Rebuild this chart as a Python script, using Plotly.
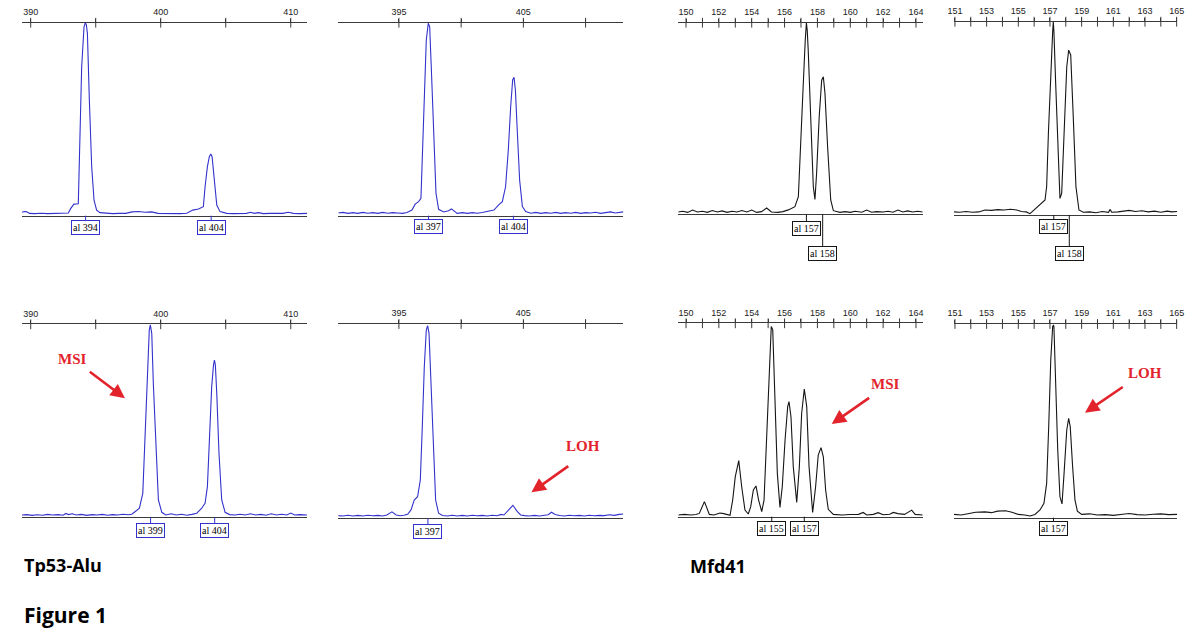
import plotly.graph_objects as go

W, H = 1200, 641

# ------------------------------------------------------------------ data
# tick values / labels (bp)
tp53_n_ticks = [390, 395, 400, 405, 410]
tp53_n_labels = ["390", "", "400", "", "410"]
tp53_t_ticks = [395, 400, 405, 410]
tp53_t_labels = ["395", "", "405", ""]
mfd_n_ticks = [150, 151, 152, 153, 154, 155, 156, 157, 158, 159, 160, 161, 162, 163, 164]
mfd_n_labels = ["150", "", "152", "", "154", "", "156", "", "158", "", "160", "", "162", "", "164"]
mfd_t_ticks = [151, 152, 153, 154, 155, 156, 157, 158, 159, 160, 161, 162, 163, 164, 165]
mfd_t_labels = ["151", "", "153", "", "155", "", "157", "", "159", "", "161", "", "163", "", "165"]

# visible size windows (bp)
tp53_n_range = [389.33, 411.25]
tp53_t_range = [390.13, 413.03]
mfd_n_range = [149.53, 164.41]
mfd_t_range = [150.94, 165.04]

# traces: (size bp, relative signal)
p1_trace = [(389.33,0.018),(389.5,0.022),(389.7,0.02),(389.9,0.012),(390.3,0.011),(390.8,0.013),(391.3,0.011),(391.8,0.012),
            (392.3,0.011),(392.7,0.013),(392.89,0.014),(393.08,0.038),(393.33,0.06),(393.66,0.062),(393.79,0.427),(393.92,0.772),
            (394.1,0.979),(394.2,1.0),(394.28,0.99),(394.36,0.945),(394.51,0.6),(394.69,0.254),(394.87,0.081),(395.07,0.029),
            (395.33,0.016),(395.8,0.012),(396.3,0.011),(396.8,0.012),(397.3,0.012),(397.8,0.02),(398.3,0.022),(398.8,0.018),
            (399.3,0.02),(399.8,0.012),(400.5,0.011),(401.0,0.012),(401.5,0.011),(402.0,0.013),(402.46,0.029),(402.9,0.035),
            (403.28,0.047),(403.41,0.15),(403.59,0.254),(403.74,0.306),(403.85,0.32),(403.95,0.306),(404.1,0.185),(404.31,0.055),
            (404.56,0.021),(405.08,0.012),(405.6,0.011),(406.1,0.012),(406.6,0.012),(406.9,0.018),(407.2,0.012),(407.5,0.016),
            (407.9,0.011),(408.4,0.012),(408.9,0.012),(409.4,0.012),(409.8,0.018),(410.2,0.012),(410.7,0.011),(411.25,0.012)]
p2_trace = [(390.13,0.014),(390.5,0.017),(390.9,0.012),(391.3,0.016),(391.7,0.012),(392.1,0.017),(392.5,0.013),(392.9,0.016),
            (393.3,0.012),(393.7,0.017),(394.1,0.013),(394.5,0.016),(394.9,0.014),(395.3,0.012),(395.65,0.017),(396.05,0.029),
            (396.31,0.06),(396.58,0.073),(396.77,0.09),(396.9,0.34),(397.04,0.686),(397.2,0.91),(397.36,0.997),(397.47,0.98),
            (397.6,0.772),(397.79,0.427),(397.98,0.116),(398.19,0.033),(398.6,0.019),(399.0,0.026),(399.22,0.035),(399.4,0.026),
            (399.68,0.012),(400.1,0.016),(400.5,0.012),(400.9,0.016),(401.3,0.013),(401.7,0.017),(402.1,0.021),(402.63,0.029),
            (403.04,0.057),(403.31,0.073),(403.57,0.15),(403.79,0.34),(403.98,0.565),(404.14,0.703),(404.25,0.717),(404.36,0.651),
            (404.52,0.427),(404.7,0.185),(404.92,0.047),(405.19,0.021),(405.6,0.013),(406.0,0.017),(406.4,0.012),(406.8,0.016),
            (407.2,0.013),(407.6,0.017),(408.0,0.012),(408.4,0.016),(408.8,0.013),(409.2,0.017),(409.6,0.012),(410.0,0.016),
            (410.4,0.014),(410.8,0.018),(411.2,0.012),(411.6,0.016),(412.0,0.02),(412.4,0.014),(412.7,0.018),(413.03,0.02)]
p3_trace = [(149.53,0.012),(149.8,0.016),(150.1,0.01),(150.4,0.022),(150.7,0.012),(151.0,0.016),(151.3,0.01),(151.6,0.02),
            (151.9,0.012),(152.2,0.018),(152.5,0.01),(152.8,0.016),(153.1,0.012),(153.4,0.02),(153.7,0.012),(154.0,0.022),
            (154.3,0.01),(154.6,0.014),(154.91,0.033),(155.2,0.012),(155.6,0.01),(155.9,0.014),(156.23,0.023),(156.63,0.04),
            (156.84,0.092),(156.98,0.336),(157.14,0.683),(157.26,0.91),(157.33,1.0),(157.38,0.96),(157.44,0.857),(157.59,0.51),
            (157.75,0.144),(157.85,0.078),(157.95,0.214),(158.11,0.51),(158.26,0.7),(158.36,0.718),(158.46,0.631),(158.62,0.353),
            (158.81,0.075),(158.97,0.019),(159.37,0.01),(159.7,0.014),(160.0,0.01),(160.3,0.016),(160.7,0.011),(161.0,0.022),
            (161.3,0.011),(161.6,0.014),(162.0,0.012),(162.3,0.016),(162.6,0.011),(162.9,0.022),(163.2,0.012),(163.5,0.018),
            (163.8,0.012),(164.1,0.016),(164.41,0.012)]
p4_trace = [(150.94,0.016),(151.3,0.014),(151.7,0.018),(152.1,0.014),(152.5,0.016),(152.9,0.026),(153.3,0.024),(153.7,0.028),
            (154.1,0.026),(154.5,0.03),(154.9,0.026),(155.2,0.018),(155.5,0.016),(155.74,0.007),(156.69,0.078),(156.79,0.147),
            (156.9,0.422),(157.05,0.767),(157.17,0.948),(157.21,1.0),(157.25,0.948),(157.36,0.681),(157.49,0.336),(157.63,0.086),
            (157.74,0.112),(157.89,0.457),(158.06,0.767),(158.18,0.853),(158.31,0.828),(158.47,0.509),(158.64,0.147),(158.83,0.026),
            (159.1,0.014),(159.5,0.016),(159.9,0.012),(160.3,0.018),(160.7,0.014),(160.79,0.029),(160.9,0.014),(161.3,0.016),
            (161.6,0.02),(162.0,0.024),(162.4,0.018),(162.8,0.022),(163.2,0.016),(163.6,0.02),(164.0,0.014),(164.4,0.02),
            (164.7,0.016),(165.04,0.018)]
p5_trace = [(389.33,0.012),(389.7,0.014),(390.1,0.01),(390.5,0.013),(390.9,0.011),(391.3,0.015),(391.7,0.012),(392.1,0.014),
            (392.5,0.011),(392.7,0.02),(392.9,0.014),(393.2,0.018),(393.5,0.012),(393.9,0.015),(394.3,0.01),(394.7,0.014),
            (395.1,0.012),(395.5,0.015),(395.9,0.011),(396.3,0.014),(396.7,0.012),(397.1,0.016),(397.5,0.013),(397.77,0.016),
            (398.02,0.029),(398.36,0.047),(398.62,0.124),(398.79,0.4),(398.97,0.781),(399.12,0.971),(399.2,0.997),(399.31,0.953),
            (399.43,0.694),(399.62,0.349),(399.82,0.09),(400.08,0.026),(400.4,0.012),(400.8,0.018),(401.2,0.012),(401.6,0.016),
            (402.0,0.011),(402.4,0.015),(402.77,0.021),(403.15,0.047),(403.41,0.073),(403.59,0.159),(403.74,0.383),(403.92,0.677),
            (404.06,0.79),(404.13,0.815),(404.2,0.79),(404.31,0.642),(404.48,0.332),(404.69,0.09),(404.95,0.026),(405.3,0.014),
            (405.7,0.012),(406.1,0.016),(406.5,0.012),(406.9,0.018),(407.3,0.012),(407.7,0.015),(408.1,0.011),(408.5,0.018),
            (408.9,0.012),(409.3,0.016),(409.7,0.012),(410.0,0.022),(410.3,0.012),(410.7,0.014),(411.25,0.012)]
p6_trace = [(390.13,0.014),(390.5,0.012),(390.9,0.016),(391.3,0.012),(391.7,0.015),(392.1,0.012),(392.5,0.016),(392.9,0.013),
            (393.3,0.015),(393.7,0.012),(394.03,0.017),(394.44,0.033),(394.78,0.017),(395.1,0.013),(395.4,0.016),(395.7,0.021),
            (395.97,0.043),(396.23,0.094),(396.5,0.111),(396.72,0.197),(396.88,0.472),(397.04,0.78),(397.2,0.969),(397.31,0.991),
            (397.42,0.952),(397.58,0.695),(397.77,0.352),(397.95,0.094),(398.19,0.026),(398.5,0.014),(398.9,0.012),(399.3,0.016),
            (399.7,0.012),(400.1,0.015),(400.5,0.012),(400.9,0.016),(401.3,0.013),(401.7,0.015),(402.1,0.012),(402.5,0.016),
            (402.9,0.013),(403.2,0.02),(403.44,0.017),(403.84,0.046),(404.16,0.067),(404.52,0.034),(404.78,0.017),(405.1,0.014),
            (405.5,0.012),(405.9,0.015),(406.3,0.012),(406.7,0.016),(407.0,0.018),(407.26,0.031),(407.55,0.02),(407.9,0.014),
            (408.3,0.012),(408.7,0.016),(409.1,0.013),(409.5,0.015),(409.9,0.012),(410.3,0.016),(410.7,0.013),(411.1,0.015),
            (411.5,0.014),(411.9,0.018),(412.3,0.015),(412.7,0.02),(413.03,0.022)]
p7_trace = [(149.53,0.009),(149.9,0.012),(150.3,0.009),(150.6,0.011),(150.81,0.017),(151.12,0.078),(151.42,0.012),(151.7,0.009),
            (152.07,0.019),(152.3,0.016),(152.68,0.007),(152.84,0.086),(153.0,0.207),(153.21,0.29),(153.39,0.155),(153.59,0.034),
            (153.79,0.014),(153.94,0.052),(154.1,0.138),(154.26,0.159),(154.42,0.086),(154.61,0.026),(154.75,0.086),(154.91,0.397),
            (155.07,0.776),(155.19,0.983),(155.28,0.966),(155.42,0.603),(155.56,0.224),(155.72,0.048),(155.86,0.155),(156.03,0.397),
            (156.19,0.569),(156.27,0.595),(156.39,0.517),(156.53,0.259),(156.74,0.074),(156.9,0.259),(157.04,0.534),(157.2,0.66),
            (157.35,0.569),(157.49,0.259),(157.71,0.022),(157.89,0.155),(158.05,0.319),(158.22,0.357),(158.36,0.31),(158.5,0.138),
            (158.66,0.038),(158.97,0.012),(159.5,0.009),(160.0,0.011),(160.5,0.012),(160.79,0.022),(161.0,0.009),(161.4,0.012),
            (161.7,0.021),(162.0,0.01),(162.4,0.013),(162.62,0.022),(162.9,0.016),(163.3,0.012),(163.74,0.034),(163.95,0.012),
            (164.41,0.009)]
p8_trace = [(150.94,0.017),(151.4,0.014),(151.9,0.022),(152.3,0.028),(152.9,0.03),(153.3,0.026),(153.7,0.034),(154.2,0.036),
            (154.6,0.028),(155.0,0.017),(155.4,0.014),(155.74,0.009),(156.05,0.017),(156.37,0.04),(156.62,0.074),(156.79,0.177),
            (156.92,0.47),(157.05,0.814),(157.17,0.986),(157.22,0.995),(157.25,0.986),(157.36,0.694),(157.49,0.349),(157.63,0.108),
            (157.76,0.071),(157.89,0.229),(158.06,0.453),(158.18,0.513),(158.28,0.47),(158.43,0.263),(158.58,0.091),(158.73,0.034),
            (159.0,0.017),(159.5,0.02),(160.0,0.014),(160.5,0.016),(161.0,0.012),(161.6,0.018),(162.0,0.022),(162.5,0.016),
            (163.0,0.014),(163.5,0.018),(164.0,0.02),(164.5,0.016),(165.04,0.017)]

# allele calls
p1_alleles, p1_allele_bp = ["al 394", "al 404"], [394.22, 403.88]
p2_alleles, p2_allele_bp = ["al 397", "al 404"], [397.38, 404.2]
p3_alleles, p3_allele_bp = ["al 157", "al 158"], [157.33, 158.32]
p4_alleles, p4_allele_bp = ["al 157", "al 158"], [157.24, 158.22]
p5_alleles, p5_allele_bp = ["al 399", "al 404"], [399.22, 404.15]
p6_alleles, p6_allele_bp = ["al 397"], [397.33]
p7_alleles, p7_allele_bp = ["al 155", "al 157"], [155.22, 157.2]
p8_alleles, p8_allele_bp = ["al 157"], [157.22]

# ------------------------------------------------------------------ style / layout
BLUE = "#3232cc"
BLACK = "#151515"
AXIS = "#3a3a3a"
RED = "#e3232c"

panels = [
    dict(trace=p1_trace, color=BLUE, ticks=tp53_n_ticks, labels=tp53_n_labels, rng=tp53_n_range,
         alleles=p1_alleles, abp=p1_allele_bp, off=[12, 12], dom=(22, 307, 22.7, 215.7)),
    dict(trace=p2_trace, color=BLUE, ticks=tp53_t_ticks, labels=tp53_t_labels, rng=tp53_t_range,
         alleles=p2_alleles, abp=p2_allele_bp, off=[11, 11], dom=(338.3, 623.3, 22.7, 215.7)),
    dict(trace=p3_trace, color=BLACK, ticks=mfd_n_ticks, labels=mfd_n_labels, rng=mfd_n_range,
         alleles=p3_alleles, abp=p3_allele_bp, off=[14, 39], dom=(678.3, 922.7, 22.7, 214.3)),
    dict(trace=p4_trace, color=BLACK, ticks=mfd_t_ticks, labels=mfd_t_labels, rng=mfd_t_range,
         alleles=p4_alleles, abp=p4_allele_bp, off=[11, 38], dom=(954, 1177.3, 21.7, 215)),
    dict(trace=p5_trace, color=BLUE, ticks=tp53_n_ticks, labels=tp53_n_labels, rng=tp53_n_range,
         alleles=p5_alleles, abp=p5_allele_bp, off=[13, 13], dom=(22, 307, 324.3, 517.3)),
    dict(trace=p6_trace, color=BLUE, ticks=tp53_t_ticks, labels=tp53_t_labels, rng=tp53_t_range,
         alleles=p6_alleles, abp=p6_allele_bp, off=[13], dom=(338.3, 623.3, 324, 518.3)),
    dict(trace=p7_trace, color=BLACK, ticks=mfd_n_ticks, labels=mfd_n_labels, rng=mfd_n_range,
         alleles=p7_alleles, abp=p7_allele_bp, off=[12, 12], dom=(678.3, 922.7, 323.3, 516.7)),
    dict(trace=p8_trace, color=BLACK, ticks=mfd_t_ticks, labels=mfd_t_labels, rng=mfd_t_range,
         alleles=p8_alleles, abp=p8_allele_bp, off=[11], dom=(954, 1177.3, 324, 517.7)),
]

# callouts: (panel, text, text position, arrow tail, arrow head) in panel data units
callouts = [
    (5, "MSI", (393.23, 0.82), (394.43, 0.76), (397.25, 0.617)),
    (6, "LOH", (409.81, 0.374), (408.73, 0.274), (405.65, 0.134)),
    (7, "MSI", (162.17, 0.686), (161.24, 0.62), (158.87, 0.479)),
    (8, "LOH", (163.0, 0.749), (161.69, 0.68), (159.21, 0.542)),
]

fig = go.Figure()
layout = dict(width=W, height=H, margin=dict(l=0, r=0, t=0, b=0, pad=0, autoexpand=False),
              template="none", paper_bgcolor="white", plot_bgcolor="rgba(0,0,0,0)", showlegend=False)
annotations = []

for i, P in enumerate(panels, start=1):
    sfx = "" if i == 1 else str(i)
    xa, ya = "x" + sfx, "y" + sfx
    xs = [p[0] for p in P["trace"]]
    ys = [p[1] for p in P["trace"]]
    fig.add_trace(go.Scatter(x=xs, y=ys, xaxis=xa, yaxis=ya, mode="lines",
                             line=dict(color=P["color"], width=1.1), hoverinfo="skip"))
    fig.add_trace(go.Scatter(x=P["ticks"], y=[1] * len(P["ticks"]), xaxis=xa, yaxis=ya, mode="markers",
                             marker=dict(symbol="line-ns", size=7, line=dict(color=AXIS, width=1)),
                             cliponaxis=False, hoverinfo="skip"))
    x0, x1, y0, y1 = P["dom"]
    layout["xaxis" + sfx] = dict(domain=[x0 / W, x1 / W], anchor=ya, side="top", range=P["rng"],
                                 tickmode="array", tickvals=P["ticks"], ticktext=P["labels"],
                                 ticks="outside", ticklen=3, tickcolor=AXIS, tickwidth=1,
                                 showline=True, mirror=True, linecolor=AXIS, linewidth=1,
                                 showgrid=False, zeroline=False, fixedrange=True, automargin=False,
                                 tickfont=dict(family="Liberation Sans", size=9, color="#222"))
    layout["yaxis" + sfx] = dict(domain=[1 - y1 / H, 1 - y0 / H], anchor=xa, range=[0, 1],
                                 visible=False, fixedrange=True, automargin=False)
    for lab, bp, off in zip(P["alleles"], P["abp"], P["off"]):
        annotations.append(dict(x=bp, y=0, xref=xa, yref=ya, text=lab, showarrow=True,
                                arrowhead=0, arrowwidth=1, arrowcolor=P["color"], ax=0, ay=off,
                                standoff=0, bordercolor=P["color"], borderwidth=1, borderpad=1,
                                bgcolor="white",
                                font=dict(family="Liberation Serif", size=10, color="black")))

for pi, txt, tpos, tail, head in callouts:
    sfx = "" if pi == 1 else str(pi)
    xa, ya = "x" + sfx, "y" + sfx
    annotations.append(dict(x=tpos[0], y=tpos[1], xref=xa, yref=ya, text="<b>%s</b>" % txt,
                            showarrow=False,
                            font=dict(family="Liberation Serif", size=15, color=RED)))
    annotations.append(dict(x=head[0], y=head[1], xref=xa, yref=ya, ax=tail[0], ay=tail[1],
                            axref=xa, ayref=ya, text="", showarrow=True, arrowhead=2,
                            arrowsize=1.1, arrowwidth=2.6, arrowcolor=RED, standoff=0))

for txt, px, py, size in [("Tp53-Alu", 22, 565, 18), ("Mfd41", 688, 566, 18), ("Figure 1", 22, 615, 21)]:
    annotations.append(dict(x=px / W, y=1 - py / H, xref="paper", yref="paper", text="<b>%s</b>" % txt,
                            showarrow=False, xanchor="left", yanchor="middle",
                            font=dict(family="Open Sans", size=size, color="black")))

layout["annotations"] = annotations
fig.update_layout(**layout)
fig.write_html("out.html", config={"responsive": False, "displayModeBar": False, "staticPlot": True},
               post_script="document.body.style.margin='0';document.body.style.overflow='hidden';")
